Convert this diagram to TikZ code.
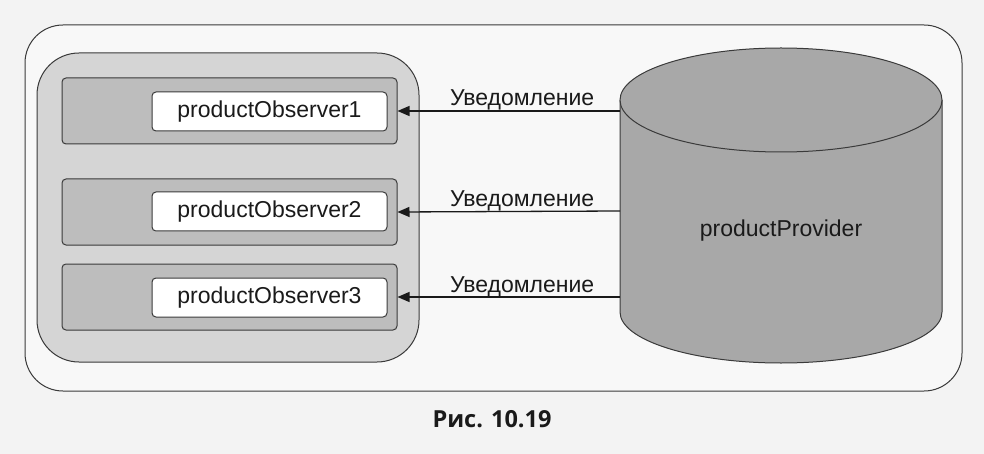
\documentclass[tikz,border=0pt]{standalone}
\usepackage{fontspec}
\setmainfont{Liberation Sans}
\newfontfamily\capfont{Open Sans}
\usetikzlibrary{arrows.meta}
\definecolor{bg}{HTML}{F3F3F3}
\definecolor{framefill}{HTML}{F8F8F8}
\definecolor{groupfill}{HTML}{D5D5D5}
\definecolor{rowfill}{HTML}{BDBDBD}
\definecolor{dbfill}{HTML}{A8A8A8}
\definecolor{edge}{HTML}{3A3A3A}
\definecolor{ink}{HTML}{1A1A1A}
\begin{document}
\begin{tikzpicture}[
    x=1pt, y=-1pt,
    every node/.style={
    font=\fontsize{23}{27}\selectfont, text=ink},
    box/.style={draw=edge, line width=1pt, inner sep=0pt},
    rowbox/.style={box, fill=rowfill, rounded corners=4pt,
        minimum width=335pt, minimum height=66pt},
    obsbox/.style={box, fill=white, rounded corners=4pt,
        minimum width=235pt, minimum height=39pt},
    notify/.style={draw=ink, line width=1.3pt, -{Triangle[length=12pt,width=10pt]}},
    lbl/.style={pos=.44, anchor=base, yshift=5pt, inner sep=0pt}]
    \fill[bg] (0,0) rectangle (984,454);
    \useasboundingbox (0,0) rectangle (984,454);

    \node[box, fill=framefill, rounded corners=38pt,
        minimum width=937pt, minimum height=366pt] (frame) at (493.5,208) {};
    \node[box, fill=groupfill, rounded corners=42pt,
        minimum width=382pt, minimum height=309pt] (group) at (228,207.5) {};

    \node[rowbox] (row1) at (229.5,111) {};
    \node[rowbox] (row2) at (229.5,212) {};
    \node[rowbox] (row3) at (229.5,297) {};
    \node[obsbox] (obs1) at (269.5,111.5) {productObserver1};
    \node[obsbox] (obs2) at (269.5,211.5) {productObserver2};
    \node[obsbox] (obs3) at (269.5,297.5) {productObserver3};

    \fill[dbfill] (620,100) -- (620,312)
        arc[start angle=180, end angle=360, x radius=161pt, y radius=51pt]
        -- (942,100) -- cycle;
    \draw[edge, line width=1pt] (620,100) -- (620,312)
        arc[start angle=180, end angle=360, x radius=161pt, y radius=51pt]
        -- (942,100);
    \draw[edge, line width=1pt, fill=dbfill] (781,100) ellipse[x radius=161pt, y radius=52pt];
    \node (prov) at (781,231) {productProvider};

    \coordinate (out1) at (620,111);
    \coordinate (out2) at (620,211);
    \coordinate (out3) at (620,297);
    \draw[notify] (out1) -- (row1.east) node[lbl] {Уведомление};
    \draw[notify] (out2) -- (row2.east) node[lbl] {Уведомление};
    \draw[notify] (out3) -- (row3.east) node[lbl] {Уведомление};

    \node[font={\capfont\bfseries\fontsize{23.5}{28}\selectfont}, anchor=base] (cap) at (492,427) {Рис. 10.19};
\end{tikzpicture}
\end{document}
